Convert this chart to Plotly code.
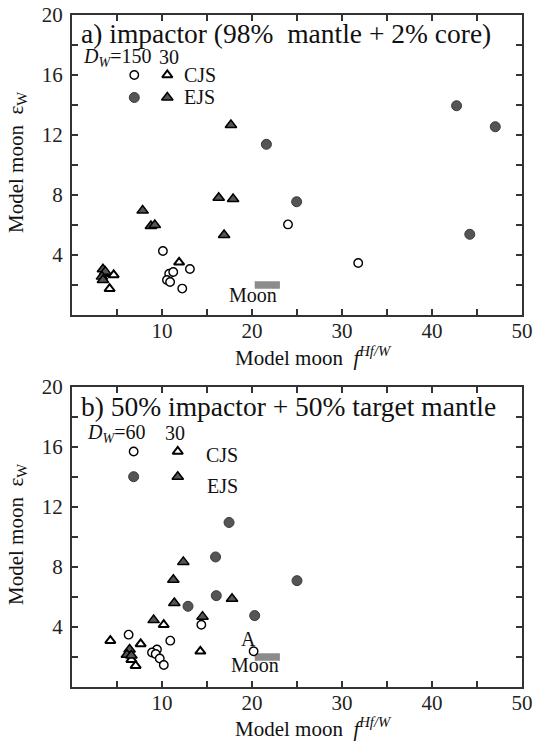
import plotly.graph_objects as go

# ---------------- data ----------------
# panel a) impactor (98% mantle + 2% core)
a_cjs150_f = [10.1, 10.8, 11.25, 10.55, 10.9, 13.1, 12.25, 24.0, 31.8]
a_cjs150_e = [4.27, 2.75, 2.87, 2.33, 2.2, 3.07, 1.76, 6.04, 3.47]
a_ejs150_f = [21.6, 24.96, 42.73, 47.03, 44.2]
a_ejs150_e = [11.38, 7.55, 13.95, 12.55, 5.38]
a_ejs30_f = [17.66, 7.85, 8.77, 9.2, 16.3, 17.9, 16.9, 3.44, 3.7, 3.33, 3.44]
a_ejs30_e = [12.67, 6.96, 5.93, 6.0, 7.82, 7.73, 5.33, 3.05, 2.89, 2.56, 2.33]
a_cjs30_f = [11.9, 4.63, 4.18, 3.6]
a_cjs30_e = [3.51, 2.67, 1.75, 2.75]

# panel b) 50% impactor + 50% target mantle
b_cjs60_f = [6.29, 10.92, 14.37, 9.44, 8.89, 9.3, 9.75, 10.2, 20.18]
b_cjs60_e = [3.49, 3.09, 4.15, 2.5, 2.3, 2.2, 1.9, 1.47, 2.38]
b_ejs60_f = [17.45, 15.95, 25.0, 16.03, 12.89, 20.3]
b_ejs60_e = [10.97, 8.67, 7.09, 6.09, 5.38, 4.76]
b_ejs30_f = [12.37, 11.26, 11.37, 9.07, 14.5, 17.78, 6.4, 6.1, 6.6]
b_ejs30_e = [8.34, 7.15, 5.6, 4.46, 4.69, 5.88, 2.5, 2.15, 2.1]
b_cjs30_f = [4.26, 7.63, 10.19, 14.26, 6.6, 7.07]
b_cjs30_e = [3.09, 2.87, 4.15, 2.38, 1.82, 1.42]

# Moon box
moon_f = [20.3, 23.1]
moon_eps = [1.75, 2.25]

x_tickvals = [0, 5, 10, 15, 20, 25, 30, 35, 40, 45, 50]
x_ticktext = ["", "", "10", "", "20", "", "30", "", "40", "", "50"]
y_tickvals = [0, 2, 4, 6, 8, 10, 12, 14, 16, 18, 20]
y_ticktext = ["", "", "4", "", "8", "", "12", "", "16", "", "20"]

panel_titles = ["a) impactor (98%\u00a0\u00a0mantle + 2% core)",
                "b) 50% impactor + 50% target mantle"]
dw_labels = ["<i>D</i><sub><i>W</i></sub>=150", "<i>D</i><sub><i>W</i></sub>=60"]

# ---------------- layout geometry ----------------
W, H = 533, 743
ML, MR, MT, MB = 72, 11, 15, 56
PW = W - ML - MR
PH = H - MT - MB
FONT = "Liberation Serif, Times New Roman, serif"
DARK = "#333333"
FILL = "#555555"


def px_x(px):
    return (px - ML) / PW


def px_y(py):
    return (H - MB - py) / PH


top_dom = [px_y(315), 1.0]
bot_dom = [0.0, px_y(387)]

fig = go.Figure()

open_circ = dict(symbol="circle", size=8.5, color="white", line=dict(color="black", width=1.4))
fill_circ = dict(symbol="circle", size=10, color=FILL, line=dict(color="#3a3a3a", width=1))
open_tri = dict(symbol="triangle-up", size=9, color="white", line=dict(color="black", width=2))
fill_tri = dict(symbol="triangle-up", size=10, color=FILL, line=dict(color="black", width=1.5))


def add(xs, ys, marker, xa, ya):
    fig.add_trace(go.Scatter(x=xs, y=ys, mode="markers", marker=marker,
                             xaxis=xa, yaxis=ya, showlegend=False, hoverinfo="skip",
                             cliponaxis=False))


# panel a
add(a_cjs150_f, a_cjs150_e, open_circ, "x", "y")
add(a_ejs150_f, a_ejs150_e, fill_circ, "x", "y")
add(a_cjs30_f, a_cjs30_e, open_tri, "x", "y")
add(a_ejs30_f, a_ejs30_e, fill_tri, "x", "y")
# panel b
add(b_cjs60_f, b_cjs60_e, open_circ, "x2", "y2")
add(b_ejs60_f, b_ejs60_e, fill_circ, "x2", "y2")
add(b_cjs30_f, b_cjs30_e, open_tri, "x2", "y2")
add(b_ejs30_f, b_ejs30_e, fill_tri, "x2", "y2")

# legend keys (positions in data units of each panel)
leg_a = dict(cx=6.92, tx=10.59, cjs=16.0, ejs=14.5)
leg_b = dict(cx=6.85, tx=11.75, cjs=15.7, ejs=14.02)
for leg, xa, ya in [(leg_a, "x", "y"), (leg_b, "x2", "y2")]:
    add([leg["cx"]], [leg["cjs"]], open_circ, xa, ya)
    add([leg["cx"]], [leg["ejs"]], fill_circ, xa, ya)
    add([leg["tx"]], [leg["cjs"]], open_tri, xa, ya)
    add([leg["tx"]], [leg["ejs"]], fill_tri, xa, ya)

shapes = []
for xr, yr in [("x", "y"), ("x2", "y2")]:
    shapes.append(dict(type="rect", xref=xr, yref=yr, x0=moon_f[0], x1=moon_f[1],
                       y0=moon_eps[0], y1=moon_eps[1], fillcolor="#8c8c8c",
                       line=dict(width=0), layer="below"))

axis_common = dict(range=[0, 50], tickvals=x_tickvals, ticktext=x_ticktext,
                   ticks="inside", ticklen=6, tickwidth=1.5, tickcolor=DARK,
                   showline=True, linewidth=2, linecolor=DARK, mirror="ticks",
                   showgrid=False, zeroline=False, automargin=False,
                   ticklabelstandoff=-4,
                   tickfont=dict(family=FONT, size=21, color="#222"))
yaxis_common = dict(range=[0, 20], tickvals=y_tickvals, ticktext=y_ticktext,
                    ticks="inside", ticklen=6, tickwidth=1.5, tickcolor=DARK,
                    showline=True, linewidth=2, linecolor=DARK, mirror="ticks",
                    showgrid=False, zeroline=False, automargin=False,
                    ticklabelstandoff=3,
                    tickfont=dict(family=FONT, size=21, color="#222"))

annotations = []


def ann(text, x, y, size=20, xanchor="center", yanchor="middle", angle=0):
    annotations.append(dict(text=text, x=px_x(x), y=px_y(y), xref="paper", yref="paper",
                            xanchor=xanchor, yanchor=yanchor, showarrow=False,
                            textangle=angle, font=dict(family=FONT, size=size, color="#111")))


xtitle = "Model moon\u00a0\u00a0<i>f</i><sup><i>Hf/W</i></sup>"
ytitle = "Model moon\u00a0\u00a0\u03b5<sub>W</sub>"
# panel a texts
ann(panel_titles[0], 79, 33, size=27.5, xanchor="left")
ann(dw_labels[0], 81, 57, size=20, xanchor="left")
ann("30", 169, 57, size=20)
ann("CJS", 182, 75, size=20, xanchor="left")
ann("EJS", 182, 97, size=20, xanchor="left")
ann("Moon", 253, 295, size=20)
ann(xtitle, 233, 356, size=21, xanchor="left")
ann(ytitle, 17, 163, size=21, angle=-90)
# panel b texts
ann(panel_titles[1], 79, 406, size=27.5, xanchor="left")
ann(dw_labels[1], 85, 433, size=20, xanchor="left")
ann("30", 175, 433, size=20)
ann("CJS", 204, 455, size=20, xanchor="left")
ann("EJS", 205, 486, size=20, xanchor="left")
ann("A", 248, 639, size=20)
ann("Moon", 255, 665, size=20)
ann(xtitle, 233, 727, size=21, xanchor="left")
ann(ytitle, 17, 535, size=21, angle=-90)

fig.update_layout(
    width=W, height=H,
    margin=dict(l=ML, r=MR, t=MT, b=MB, autoexpand=False),
    paper_bgcolor="white", plot_bgcolor="white",
    xaxis=dict(domain=[0, 1], anchor="y", **axis_common),
    yaxis=dict(domain=top_dom, anchor="x", **yaxis_common),
    xaxis2=dict(domain=[0, 1], anchor="y2", **axis_common),
    yaxis2=dict(domain=bot_dom, anchor="x2", **yaxis_common),
    shapes=shapes,
    annotations=annotations,
    showlegend=False,
)

fig.write_html("out.html", config={"displayModeBar": False},
               post_script="document.body.style.margin='0';document.body.style.overflow='hidden';")
